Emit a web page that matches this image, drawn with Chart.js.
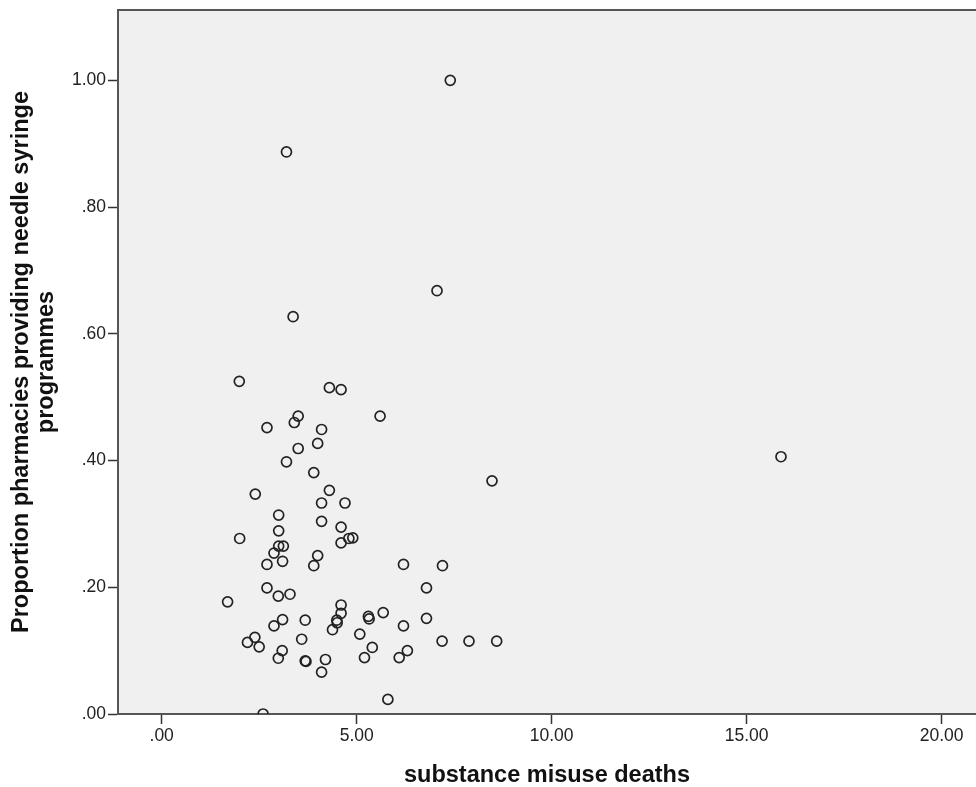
<!DOCTYPE html>
<html>
<head>
<meta charset="utf-8">
<script src="https://cdn.jsdelivr.net/npm/chart.js@4"></script>
<style>
  html, body { margin: 0; padding: 0; background: #fff; overflow: hidden; }
  canvas { display: block; }
</style>
</head>
<body>
<canvas id="scatter" width="976" height="787"></canvas>
<script>
// substance misuse deaths (x) vs proportion of pharmacies providing NSP (y)
const DEATHS = [
  7.40, 3.20, 7.06, 3.37, 1.99, 4.30, 4.60, 5.60, 3.50, 3.40,
  2.70, 4.10, 4.00, 3.50, 3.20, 15.88, 3.90, 8.47, 2.40, 4.30,
  4.10, 4.70, 3.00, 4.10, 3.00, 4.60, 2.00, 4.80, 4.90, 4.60,
  3.00, 3.12, 2.88, 2.70, 3.10, 4.00, 3.90, 6.20, 7.20, 2.70,
  6.79, 2.99, 3.29, 1.69, 4.60, 4.60, 4.49, 4.50, 4.38, 5.30,
  5.32, 5.68, 3.68, 3.10, 6.79, 2.88, 6.20, 2.39, 2.20, 2.50,
  3.59, 5.08, 7.19, 7.88, 8.59, 6.30, 6.09, 3.09, 2.99, 3.68,
  3.70, 4.20, 4.10, 5.20, 5.40, 5.80, 2.60
];
const PROPORTION = [
  1.000, 0.887, 0.668, 0.627, 0.525, 0.515, 0.512, 0.470, 0.470, 0.460,
  0.452, 0.449, 0.427, 0.419, 0.398, 0.406, 0.381, 0.368, 0.347, 0.353,
  0.333, 0.333, 0.314, 0.304, 0.289, 0.295, 0.277, 0.277, 0.278, 0.270,
  0.265, 0.265, 0.254, 0.236, 0.241, 0.250, 0.234, 0.236, 0.234, 0.199,
  0.199, 0.186, 0.189, 0.177, 0.172, 0.159, 0.148, 0.144, 0.133, 0.154,
  0.150, 0.160, 0.148, 0.149, 0.151, 0.139, 0.139, 0.121, 0.113, 0.106,
  0.118, 0.126, 0.115, 0.115, 0.115, 0.100, 0.089, 0.100, 0.088, 0.084,
  0.083, 0.086, 0.066, 0.089, 0.105, 0.023, 0.000
];
const X_TICKS = [0, 5, 10, 15, 20];
const Y_TICKS = [0, 0.2, 0.4, 0.6, 0.8, 1.0];
const X_TITLE = "substance misuse deaths";
const Y_TITLE = ["Proportion pharmacies providing needle syringe", "programmes"];

const FONT = "'Liberation Sans', Arial, sans-serif";
const fmt = (v) => v.toFixed(2).replace(/^0/, "");

// grey plot background + top frame line, SPSS style
const plotFrame = {
  id: "plotFrame",
  beforeDraw(chart) {
    const { ctx, chartArea: a } = chart;
    ctx.save();
    ctx.fillStyle = "#F0F0F0";
    ctx.fillRect(a.left, a.top, a.right - a.left, a.bottom - a.top);
    ctx.restore();
  },
  afterDraw(chart) {
    const { ctx, chartArea: a } = chart;
    ctx.save();
    ctx.strokeStyle = "#555";
    ctx.lineWidth = 2;
    ctx.beginPath();
    ctx.moveTo(a.left - 1, a.top);
    ctx.lineTo(a.right, a.top);
    ctx.stroke();
    ctx.restore();
  },
};

const points = DEATHS.map((x, i) => ({ x, y: PROPORTION[i] }));

new Chart(document.getElementById("scatter"), {
  type: "scatter",
  data: {
    datasets: [{
      data: points,
      pointStyle: "circle",
      pointRadius: 5,
      pointHoverRadius: 5,
      pointBorderWidth: 1.7,
      borderColor: "#222",
      backgroundColor: "rgba(0,0,0,0)",
    }],
  },
  options: {
    responsive: false,
    animation: false,
    devicePixelRatio: 1,
    layout: { autoPadding: false, padding: { top: 10, left: 0, right: 0, bottom: 0 } },
    plugins: { legend: { display: false }, tooltip: { enabled: false } },
    scales: {
      x: {
        type: "linear",
        min: -1.12,
        max: 20.88,
        afterBuildTicks: (s) => { s.ticks = X_TICKS.map((v) => ({ value: v })); },
        afterFit: (s) => { s.height = 73; s.paddingLeft = 0; s.paddingRight = 0; },
        border: { display: true, color: "#555", width: 2 },
        grid: { drawOnChartArea: false, drawTicks: true, tickLength: 10, tickColor: "#333", tickWidth: 1.5 },
        ticks: {
          callback: (v) => fmt(v),
          color: "#222",
          padding: 2,
          maxRotation: 0,
          font: { family: FONT, size: 17.5 },
        },
        title: {
          display: true,
          text: X_TITLE,
          color: "#111",
          padding: { top: 0, bottom: 0 },
          font: { family: FONT, size: 23.5, weight: "bold", lineHeight: 1.0 },
        },
      },
      y: {
        type: "linear",
        min: 0,
        max: 1.111,
        afterBuildTicks: (s) => { s.ticks = Y_TICKS.map((v) => ({ value: v })); },
        afterFit: (s) => { s.width = 118; s.paddingTop = 0; s.paddingBottom = 0; },
        border: { display: true, color: "#555", width: 2 },
        grid: { drawOnChartArea: false, drawTicks: true, tickLength: 10, tickColor: "#333", tickWidth: 1.5 },
        ticks: {
          callback: (v) => fmt(v),
          color: "#222",
          padding: 2,
          font: { family: FONT, size: 17.5 },
        },
        title: {
          display: true,
          text: Y_TITLE,
          color: "#111",
          padding: { top: 8.5, bottom: 0 },
          font: { family: FONT, size: 23.5, weight: "bold", lineHeight: 1.085 },
        },
      },
    },
  },
  plugins: [plotFrame],
});
</script>
</body>
</html>
